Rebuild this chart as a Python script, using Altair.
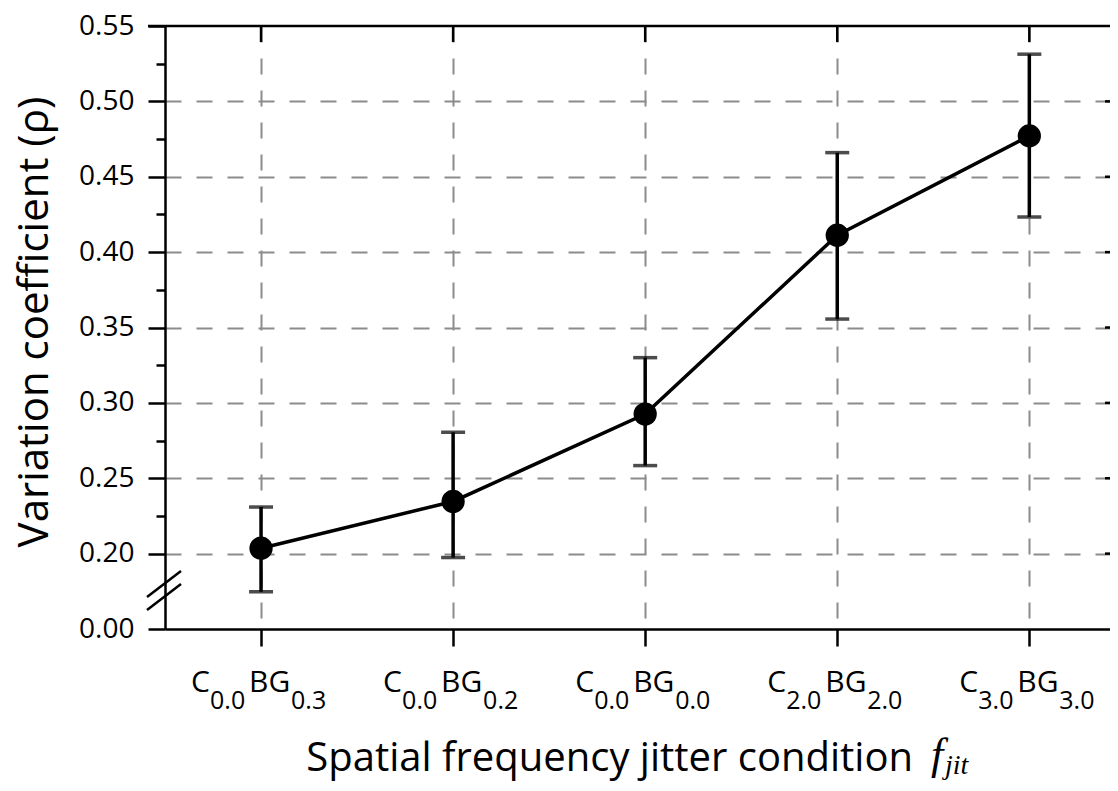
import altair as alt
import pandas as pd

# ---- data ----
idx = [0, 1, 2, 3, 4]
c_sub = ["0.0", "0.0", "0.0", "2.0", "3.0"]
bg_sub = ["0.3", "0.2", "0.0", "2.0", "3.0"]
means = [0.2036, 0.2346, 0.2926, 0.4112, 0.4771]
upper = [0.2309, 0.2805, 0.3300, 0.4660, 0.5313]
lower = [0.1747, 0.1974, 0.2584, 0.3556, 0.4233]

y_ticks = [0.15, 0.20, 0.225, 0.25, 0.275, 0.30, 0.325, 0.35, 0.375,
           0.40, 0.425, 0.45, 0.475, 0.50, 0.525, 0.55]
right_ticks = [0.20, 0.25, 0.30, 0.35, 0.40, 0.45, 0.50]
x_title = "Spatial frequency jitter condition"
y_title = "Variation coefficient (ρ)"

W, H = 945, 603
FONT = "Open Sans"

df = pd.DataFrame({"i": idx, "m": means, "hi": upper, "lo": lower,
                   "c": ["C"] * 5, "cs": c_sub, "bg": ["BG"] * 5, "bs": bg_sub})
one = pd.DataFrame({"a": [0]})

xs = alt.Scale(domain=[-0.5, 4.42], nice=False, zero=False)
ys = alt.Scale(domain=[0.15, 0.55], nice=False, zero=False)

major = "abs(datum.value*20 - round(datum.value*20)) < 0.001"

x_axis = alt.Axis(values=idx, labels=False, title=None, tickSize=17,
                  grid=True, gridDash=[16, 16], gridColor="#8c8c8c", gridWidth=2,
                  domainColor="black", domainWidth=2.5, tickColor="black", tickWidth=2.5)
y_axis = alt.Axis(values=y_ticks, title=None,
                  labelExpr="datum.value < 0.17 ? '0.00' : ((" + major + ") ? format(datum.value, '.2f') : '')",
                  labelFont=FONT, labelFontSize=28, labelColor="black", labelPadding=14,
                  labelOverlap=False, labelFlush=False,
                  tickSize={"condition": {"test": major, "value": 17}, "value": 9},
                  tickColor="black", tickWidth=2.5, domainColor="black", domainWidth=2.5,
                  grid=True, gridDash=[16, 15], gridColor="#8c8c8c", gridWidth=2,
                  gridOpacity={"condition": {"test": "datum.value > 0.19 && datum.value < 0.51 && (" + major + ")", "value": 1}, "value": 0})

X = alt.X("i:Q", scale=xs, axis=x_axis)


def Y(field):
    return alt.Y(field, scale=ys, axis=y_axis)


base = alt.Chart(df)

line = base.mark_line(color="black", strokeWidth=3.5).encode(x=X, y=Y("m:Q"))
err = base.mark_rule(color="black", strokeWidth=3.5).encode(x=X, y=Y("lo:Q"), y2="hi:Q")
cap_hi = base.mark_tick(color="black", orient="horizontal", size=24, thickness=3.5).encode(
    x=X, y=Y("hi:Q"))
cap_lo = base.mark_tick(color="black", orient="horizontal", size=24, thickness=3.5).encode(
    x=X, y=Y("lo:Q"))
pts = base.mark_circle(color="black", opacity=1, size=540).encode(x=X, y=Y("m:Q"))

top_ticks = base.mark_rule(color="black", strokeWidth=2.5).encode(
    x=X, y=alt.value(0), y2=alt.value(16))
right = alt.Chart(pd.DataFrame({"v": right_ticks})).mark_rule(color="black", strokeWidth=2.5).encode(
    y=Y("v:Q"), x=alt.value(W - 5), x2=alt.value(W))
top_line = alt.Chart(one).mark_rule(color="black", strokeWidth=2.5).encode(
    x=alt.value(-17), x2=alt.value(W), y=alt.value(0))

slash1 = alt.Chart(one).mark_rule(color="black", strokeWidth=2.5).encode(
    x=alt.value(-18), x2=alt.value(16), y=alt.value(571), y2=alt.value(545))
slash2 = alt.Chart(one).mark_rule(color="black", strokeWidth=2.5).encode(
    x=alt.value(-18), x2=alt.value(16), y=alt.value(584), y2=alt.value(558))

lab_c = base.mark_text(align="left", baseline="alphabetic", font=FONT, fontSize=30,
                       color="black", dx=-70).encode(x=X, y=alt.value(H + 63), text="c:N")
lab_cs = base.mark_text(align="left", baseline="alphabetic", font=FONT, fontSize=25,
                        color="black", dx=-51).encode(x=X, y=alt.value(H + 80), text="cs:N")
lab_bg = base.mark_text(align="left", baseline="alphabetic", font=FONT, fontSize=30,
                        color="black", dx=-12).encode(x=X, y=alt.value(H + 63), text="bg:N")
lab_bs = base.mark_text(align="left", baseline="alphabetic", font=FONT, fontSize=25,
                        color="black", dx=30).encode(x=X, y=alt.value(H + 80), text="bs:N")

xt = alt.Chart(pd.DataFrame({"t": [x_title]})).mark_text(
    align="right", baseline="alphabetic", font=FONT, fontSize=40, color="black").encode(
    x=alt.value(748), y=alt.value(745), text="t:N")
xf = alt.Chart(pd.DataFrame({"t": ["f"]})).mark_text(
    align="left", baseline="alphabetic", font="Liberation Serif", fontStyle="italic",
    fontSize=44, color="black").encode(x=alt.value(766), y=alt.value(743), text="t:N")
xj = alt.Chart(pd.DataFrame({"t": ["jit"]})).mark_text(
    align="left", baseline="alphabetic", font="Liberation Serif", fontStyle="italic",
    fontSize=28, color="black").encode(x=alt.value(780), y=alt.value(748), text="t:N")
yt = alt.Chart(pd.DataFrame({"t": [y_title]})).mark_text(
    align="center", baseline="alphabetic", font=FONT, fontSize=42, color="black", angle=270).encode(
    x=alt.value(-117), y=alt.value(296), text="t:N")

chart = alt.layer(
    line, err, cap_hi, cap_lo, pts, top_ticks, right, top_line, slash1, slash2,
    lab_c, lab_cs, lab_bg, lab_bs, xt, xf, xj, yt
).properties(
    width=W, height=H,
    autosize=alt.AutoSizeParams(type="none"),
    padding={"left": 157, "top": 18, "right": 0, "bottom": 154},
).configure_view(strokeWidth=0).configure(font=FONT)

chart.save("out.html", embed_options={"renderer": "svg", "actions": False})
